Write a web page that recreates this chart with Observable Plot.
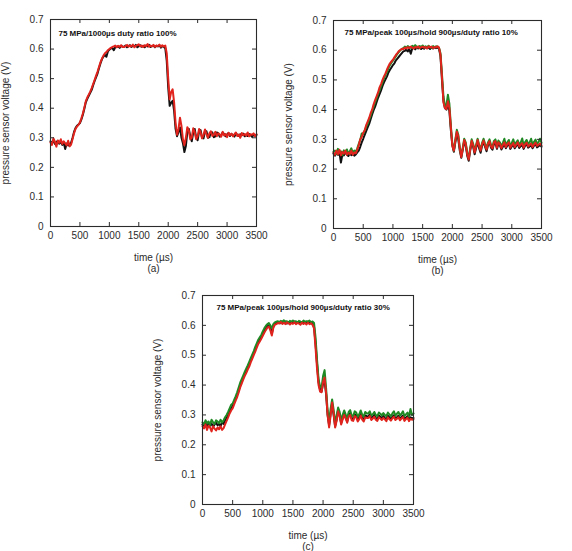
<!DOCTYPE html>
<html>
<head>
<meta charset="utf-8">
<script src="https://cdn.jsdelivr.net/npm/d3@7"></script>
<script src="https://cdn.jsdelivr.net/npm/@observablehq/plot@0.6"></script>
<style>
  body { margin: 0; background: #fff; }
  #fig { position: relative; width: 572px; height: 551px; overflow: hidden; background: #fff;
         font-family: "Liberation Sans", Arial, Helvetica, sans-serif; }
  #fig svg { position: absolute; }
</style>
</head>
<body>
<div id="fig"></div>
<script>
// Sampling grid of the recorded traces (µs)
const timeUs = d3.range(0, 3501, 25);

const xTicks = [0, 500, 1000, 1500, 2000, 2500, 3000, 3500];
const xTickLabels = ["0", "500", "1000", "1500", "2000", "2500", "3000", "3500"];
const yTicks = [0, 0.1, 0.2, 0.3, 0.4, 0.5, 0.6, 0.7];
const yTickLabels = ["0", "0.1", "0.2", "0.3", "0.4", "0.5", "0.6", "0.7"];

const xLabel = "time (µs)";
const yLabel = "pressure sensor voltage (V)";
const panelTitles = [
  "75 MPa/1000µs duty ratio 100%",
  "75 MPa/peak 100µs/hold 900µs/duty ratio 10%",
  "75 MPa/peak 100µs/hold 900µs/duty ratio 30%"
];
const panelLabels = ["(a)", "(b)", "(c)"];

// (a) 75 MPa, 1000 µs, duty ratio 100 %
const blackA = [
  .288,.281,.292,.279,.286,.290,.280,.287,.276,.284,
  .262,.281,.274,.279,.283,.300,.320,.333,.341,.345,
  .350,.362,.378,.398,.420,.432,.442,.452,.462,.478,
  .492,.505,.518,.536,.552,.566,.575,.580,.574,.592,
  .598,.602,.604,.596,.606,.608,.609,.604,.611,.608,
  .608,.612,.606,.610,.613,.607,.611,.609,.614,.606,
  .610,.613,.608,.611,.606,.612,.609,.614,.607,.610,
  .612,.606,.611,.609,.613,.605,.610,.607,.603,.560,
  .470,.408,.418,.425,.392,.330,.305,.320,.335,.300,
  .282,.252,.272,.320,.330,.305,.288,.318,.330,.300,
  .292,.322,.326,.300,.298,.322,.322,.300,.302,.320,
  .318,.302,.305,.318,.316,.304,.308,.318,.312,.305,
  .311,.316,.306,.313,.309,.304,.315,.310,.306,.312,
  .308,.314,.305,.311,.306,.313,.309,.303,.311,.307,
  .310
];
const redA = [
  .284,.276,.298,.287,.270,.291,.283,.295,.279,.288,
  .281,.274,.290,.271,.277,.296,.315,.330,.338,.344,
  .352,.366,.382,.402,.424,.436,.446,.456,.468,.482,
  .496,.510,.524,.540,.556,.568,.578,.586,.590,.596,
  .600,.604,.607,.609,.612,.606,.611,.608,.613,.607,
  .607,.610,.614,.608,.612,.609,.615,.606,.611,.613,
  .616,.609,.612,.607,.613,.610,.617,.608,.612,.609,
  .614,.607,.612,.610,.615,.608,.613,.609,.612,.585,
  .500,.430,.455,.464,.420,.350,.310,.330,.368,.340,
  .295,.275,.300,.336,.325,.295,.300,.332,.320,.295,
  .305,.330,.318,.298,.310,.328,.312,.300,.315,.322,
  .306,.310,.320,.305,.315,.312,.304,.320,.308,.313,
  .302,.317,.309,.314,.305,.312,.318,.306,.311,.300,
  .316,.309,.313,.307,.318,.305,.312,.310,.315,.306,
  .312
];

// (b) peak 100 µs / hold 900 µs, duty ratio 10 %
const blackB = [
  .252,.245,.258,.248,.255,.222,.250,.246,.257,.249,
  .244,.253,.247,.251,.245,.249,.256,.262,.275,.290,
  .302,.315,.328,.340,.352,.368,.384,.398,.410,.425,
  .440,.452,.465,.480,.492,.502,.512,.525,.534,.542,
  .550,.556,.566,.572,.578,.584,.590,.596,.598,.602,
  .596,.604,.588,.606,.608,.603,.610,.606,.609,.604,
  .610,.605,.611,.607,.609,.604,.611,.606,.610,.607,
  .609,.605,.580,.500,.430,.405,.400,.420,.395,.330,
  .280,.258,.290,.318,.300,.262,.238,.265,.292,.280,
  .245,.228,.262,.290,.275,.250,.272,.292,.270,.255,
  .278,.292,.275,.260,.280,.290,.272,.265,.284,.288,
  .268,.285,.280,.266,.275,.284,.270,.279,.286,.268,
  .276,.283,.270,.278,.285,.271,.277,.282,.268,.279,
  .284,.272,.276,.281,.270,.279,.285,.273,.277,.282,
  .275
];
const greenB = [
  .258,.262,.250,.268,.254,.260,.247,.263,.256,.266,
  .252,.260,.270,.255,.262,.258,.270,.285,.298,.320,
  .318,.330,.342,.352,.366,.380,.395,.410,.424,.438,
  .452,.466,.478,.492,.505,.518,.526,.540,.550,.558,
  .565,.572,.580,.588,.594,.600,.604,.607,.612,.608,
  .614,.610,.608,.615,.611,.617,.612,.609,.614,.611,
  .616,.610,.613,.609,.615,.611,.608,.614,.610,.613,
  .612,.608,.590,.520,.445,.412,.415,.450,.420,.345,
  .285,.262,.298,.332,.315,.272,.245,.272,.302,.290,
  .255,.238,.270,.300,.285,.262,.282,.302,.282,.266,
  .288,.302,.285,.270,.290,.300,.282,.274,.295,.300,
  .278,.296,.290,.276,.288,.302,.280,.290,.298,.278,
  .288,.300,.281,.290,.297,.282,.289,.303,.280,.291,
  .298,.284,.290,.302,.281,.292,.299,.285,.291,.302,
  .288
];
const redB = [
  .255,.248,.262,.250,.265,.246,.258,.252,.262,.248,
  .256,.250,.262,.248,.256,.253,.265,.280,.300,.308,
  .322,.330,.348,.360,.372,.388,.400,.418,.432,.445,
  .458,.475,.486,.500,.512,.522,.535,.546,.556,.562,
  .568,.576,.584,.590,.597,.601,.605,.603,.609,.606,
  .611,.607,.612,.609,.606,.611,.608,.613,.607,.610,
  .612,.608,.611,.606,.613,.609,.612,.607,.611,.609,
  .613,.609,.585,.510,.425,.405,.402,.428,.405,.340,
  .278,.262,.296,.326,.310,.270,.240,.268,.298,.286,
  .250,.232,.266,.295,.280,.256,.276,.298,.278,.262,
  .284,.296,.280,.266,.286,.294,.276,.270,.290,.294,
  .272,.290,.284,.270,.280,.290,.274,.284,.290,.272,
  .280,.288,.274,.282,.290,.276,.282,.287,.272,.284,
  .289,.276,.281,.286,.274,.283,.289,.278,.282,.286,
  .280
];

// (c) peak 100 µs / hold 900 µs, duty ratio 30 %
const blackC = [
  .268,.262,.275,.258,.270,.264,.272,.260,.268,.274,
  .265,.271,.262,.276,.270,.282,.290,.300,.312,.322,
  .330,.342,.355,.368,.382,.398,.412,.425,.436,.446,
  .458,.470,.484,.496,.506,.520,.532,.546,.554,.562,
  .572,.582,.590,.597,.600,.590,.572,.598,.606,.608,
  .610,.612,.607,.611,.609,.613,.606,.611,.608,.612,
  .609,.613,.607,.611,.608,.612,.610,.606,.612,.609,
  .613,.608,.611,.606,.596,.540,.470,.410,.385,.378,
  .405,.415,.370,.300,.265,.305,.335,.300,.262,.285,
  .318,.300,.272,.290,.305,.292,.278,.300,.306,.288,
  .285,.302,.298,.284,.292,.304,.290,.284,.298,.296,
  .295,.302,.288,.293,.300,.290,.286,.298,.294,.288,
  .296,.290,.285,.297,.292,.286,.294,.299,.288,.292,
  .297,.287,.293,.298,.285,.291,.296,.284,.292,.289,
  .290
];
const greenC = [
  .275,.268,.282,.272,.278,.266,.284,.276,.270,.282,
  .278,.272,.284,.275,.282,.292,.300,.310,.322,.334,
  .338,.350,.362,.376,.392,.408,.420,.432,.444,.455,
  .466,.478,.490,.502,.514,.528,.540,.552,.560,.568,
  .580,.590,.598,.604,.608,.600,.590,.604,.610,.612,
  .614,.610,.615,.612,.617,.611,.614,.609,.615,.612,
  .616,.611,.614,.609,.615,.612,.610,.616,.611,.614,
  .612,.616,.610,.613,.608,.560,.485,.420,.395,.392,
  .430,.450,.390,.315,.275,.320,.352,.318,.272,.298,
  .325,.310,.282,.300,.315,.302,.290,.310,.316,.298,
  .296,.312,.308,.294,.302,.315,.300,.295,.310,.305,
  .305,.312,.298,.302,.310,.300,.296,.308,.304,.298,
  .306,.300,.296,.308,.302,.296,.305,.312,.298,.304,
  .310,.298,.304,.312,.296,.302,.308,.295,.320,.300,
  .305
];
const redC = [
  .262,.255,.268,.250,.264,.258,.245,.262,.254,.248,
  .258,.252,.262,.250,.256,.268,.280,.292,.305,.315,
  .322,.335,.348,.360,.375,.392,.405,.418,.430,.440,
  .452,.462,.476,.488,.500,.512,.525,.538,.546,.555,
  .565,.575,.584,.592,.596,.584,.566,.592,.602,.604,
  .608,.606,.611,.605,.609,.604,.610,.607,.603,.608,
  .605,.610,.604,.608,.606,.602,.609,.605,.608,.603,
  .609,.604,.607,.602,.590,.525,.455,.400,.378,.376,
  .410,.425,.375,.300,.258,.298,.342,.305,.258,.280,
  .312,.295,.268,.285,.300,.288,.274,.295,.300,.282,
  .280,.296,.292,.278,.286,.298,.284,.278,.292,.290,
  .290,.296,.283,.288,.294,.284,.280,.292,.288,.283,
  .290,.285,.279,.292,.286,.281,.289,.294,.283,.287,
  .292,.282,.288,.293,.280,.286,.291,.279,.287,.284,
  .286
];

const COLORS = { black: "#111111", green: "#1f8a24", red: "#e0231c" };
const INK = "#2b2b2b";
const FONT = '"Liberation Sans", Arial, Helvetica, sans-serif';

function panel({ left, top, frameW, frameH, marginTop, title, titleDx, titleDy, label, series }) {
  const marginLeft = 50, marginRight = 24, marginBottom = 56;
  const tickLen = 4;
  const svg = Plot.plot({
    width: marginLeft + frameW + marginRight,
    height: marginTop + frameH + marginBottom,
    marginLeft, marginRight, marginTop, marginBottom,
    style: { fontFamily: FONT, fontSize: "10px", color: INK, background: "transparent", overflow: "visible" },
    x: { domain: [0, 3500] },
    y: { domain: [0, 0.7] },
    marks: [
      // traces
      ...series.map(s => Plot.line(s.values, {
        x: timeUs, y: s.values, stroke: s.color, strokeWidth: 2, strokeLinejoin: "round"
      })),
      // inward ticks on all four sides
      Plot.tickX(xTicks, { x: d => d, insetTop: frameH - tickLen, stroke: INK }),
      Plot.tickX(xTicks, { x: d => d, insetBottom: frameH - tickLen, stroke: INK }),
      Plot.tickY(yTicks, { y: d => d, insetRight: frameW - tickLen, stroke: INK }),
      Plot.tickY(yTicks, { y: d => d, insetLeft: frameW - tickLen, stroke: INK }),
      Plot.frame({ stroke: INK, strokeWidth: 1.1 }),
      // tick labels
      Plot.axisX(xTicks, {
        tickSize: 0, tickPadding: 5, label: null, fontSize: 10,
        tickFormat: d => xTickLabels[xTicks.indexOf(d)]
      }),
      Plot.axisY(yTicks, {
        tickSize: 0, tickPadding: 7, label: null, fontSize: 10,
        tickFormat: d => yTickLabels[yTicks.indexOf(d)]
      }),
      // axis titles and panel tag
      Plot.text([yLabel], {
        text: d => d, frameAnchor: "left", rotate: -90, dx: -45,
        fontSize: 10, fill: INK, lineAnchor: "middle", textAnchor: "middle"
      }),
      Plot.text([xLabel], {
        text: d => d, frameAnchor: "bottom", dy: 31,
        fontSize: 10, fill: INK, lineAnchor: "middle"
      }),
      Plot.text([label], {
        text: d => d, frameAnchor: "bottom", dy: 42,
        fontSize: 10, fill: INK, lineAnchor: "middle"
      }),
      // condition title inside the frame
      Plot.text([title], {
        text: d => d, frameAnchor: "top-left", dx: titleDx, dy: titleDy,
        fontSize: 8, fontWeight: "bold", fill: "#111", textAnchor: "start", lineAnchor: "middle"
      })
    ]
  });
  svg.style.left = left + "px";
  svg.style.top = top + "px";
  return svg;
}

const fig = document.getElementById("fig");
fig.append(
  panel({
    left: 0, top: 0, frameW: 206, frameH: 207, marginTop: 19,
    title: panelTitles[0], titleDx: 8, titleDy: 14, label: panelLabels[0],
    series: [
      { values: blackA, color: COLORS.black },
      { values: redA, color: COLORS.red }
    ]
  }),
  panel({
    left: 283, top: 0, frameW: 208, frameH: 208, marginTop: 20,
    title: panelTitles[1], titleDx: 11, titleDy: 12, label: panelLabels[1],
    series: [
      { values: blackB, color: COLORS.black },
      { values: greenB, color: COLORS.green },
      { values: redB, color: COLORS.red }
    ]
  }),
  panel({
    left: 152, top: 276, frameW: 211, frameH: 209, marginTop: 19,
    title: panelTitles[2], titleDx: 14, titleDy: 12, label: panelLabels[2],
    series: [
      { values: blackC, color: COLORS.black },
      { values: greenC, color: COLORS.green },
      { values: redC, color: COLORS.red }
    ]
  })
);
</script>
</body>
</html>
